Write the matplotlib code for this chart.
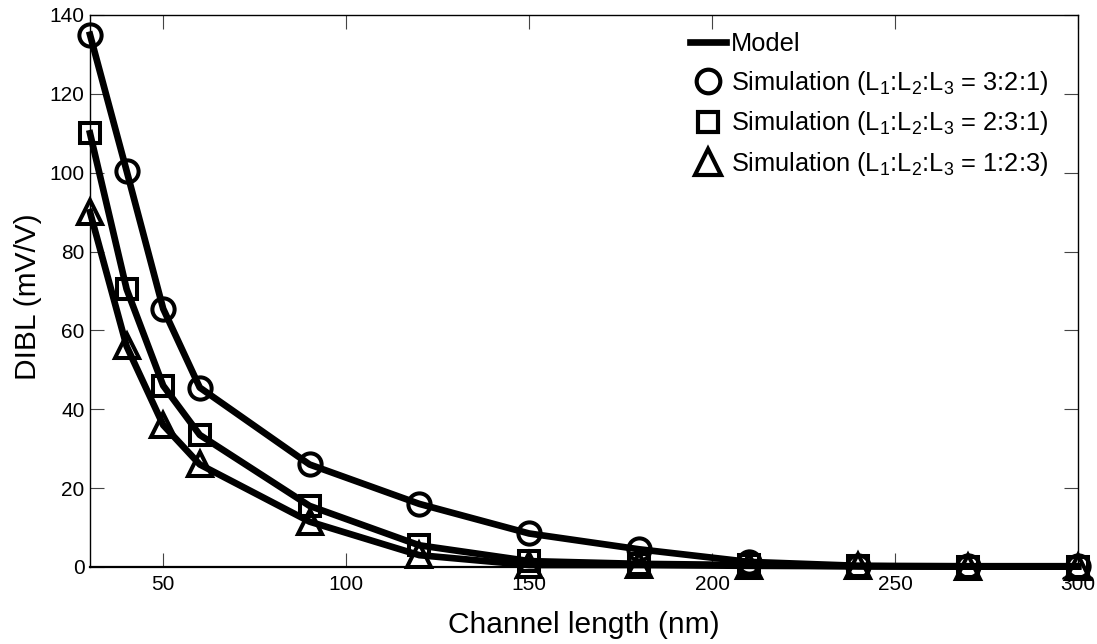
import matplotlib
matplotlib.use("Agg")
import matplotlib.pyplot as plt
from matplotlib.lines import Line2D

plt.rcParams['font.family'] = ['Liberation Sans', 'DejaVu Sans']
plt.rcParams['mathtext.fontset'] = 'custom'
plt.rcParams['mathtext.rm'] = 'Liberation Sans'
plt.rcParams['mathtext.it'] = 'Liberation Sans'

channel_length = [30, 40, 50, 60, 90, 120, 150, 180, 210, 240, 270, 300]
dibl_321 = [135, 100.5, 65.5, 45.5, 26, 16, 8.5, 4.5, 1.3, 0.3, 0.2, 0.2]
dibl_231 = [110, 70.5, 46, 33.5, 15.5, 5.5, 1.5, 0.8, 0.5, 0.2, 0.1, 0.1]
dibl_123 = [90, 56, 36, 26, 11.5, 3.0, 0.5, 0.5, 0.3, 0.2, 0.1, 0.1]

labels = [r"Simulation (L$_1$:L$_2$:L$_3$ = 3:2:1)",
          r"Simulation (L$_1$:L$_2$:L$_3$ = 2:3:1)",
          r"Simulation (L$_1$:L$_2$:L$_3$ = 1:2:3)"]
markers = ['o', 's', '^']
series = [dibl_321, dibl_231, dibl_123]
msizes = {'o': 16, 's': 14, '^': 17}
leg_sizes = {'o': 17, 's': 15, '^': 19}

W, H = 1097, 644
fig = plt.figure(figsize=(W / 100, H / 100), dpi=100)
left, right, top, bottom = 90, 1078, 15, 567
ax = fig.add_axes([left / W, 1 - bottom / H, (right - left) / W, (bottom - top) / H])

for ys in series:
    ax.plot(channel_length, ys, color='black', lw=4.8, zorder=2, clip_on=False)
for ys, m in zip(series, markers):
    ax.plot(channel_length, ys, ls='none', marker=m, ms=msizes[m],
            mfc='none', mec='black', mew=2.9, zorder=3, clip_on=False)

ax.set_xlim(30, 300)
ax.set_ylim(0, 140)
ax.set_xticks([50, 100, 150, 200, 250, 300])
ax.set_yticks(range(0, 141, 20))
ax.tick_params(direction='in', top=True, right=True, labelsize=15, length=10,
               width=0.8, color='#444444', pad=4)
ax.tick_params(axis='x', pad=6)
for s in ax.spines.values():
    s.set_linewidth(1.0)
ax.spines['bottom'].set_linewidth(1.6)
ax.set_xlabel("Channel length (nm)", fontsize=21.5, labelpad=12)
ax.set_ylabel("DIBL (mV/V)", fontsize=21.5, labelpad=5, y=0.489)

handles = [Line2D([], [], color='black', lw=4.8)]
for m in markers:
    handles.append(Line2D([], [], ls='none', marker=m, ms=leg_sizes[m], mfc='none',
                          mec='black', mew=3.0))
ax.legend(handles, ["Model"] + labels, loc='upper left', frameon=False, fontsize=18.3,
          handlelength=1.4, handletextpad=0.2, labelspacing=0.5, borderpad=0,
          borderaxespad=0,
          bbox_to_anchor=((690 - left) / (right - left), 1 - (32 - top) / (bottom - top)))

fig.savefig("out.png", dpi=100)
